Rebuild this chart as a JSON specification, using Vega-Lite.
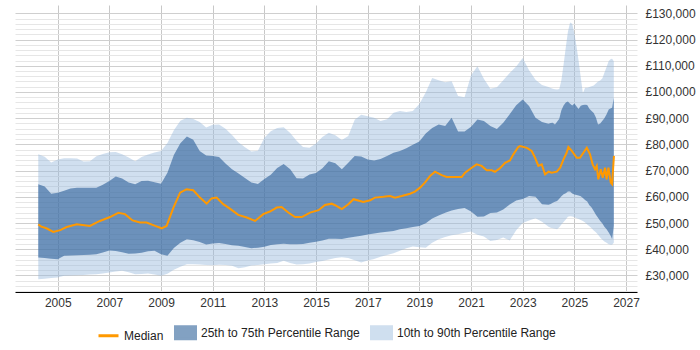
{
  "$schema": "https://vega.github.io/schema/vega-lite/v6.json",
  "width": 622,
  "height": 287,
  "autosize": "none",
  "padding": {"left": 15, "top": 5, "right": 63, "bottom": 58},
  "background": "white",
  "config": {
    "view": {"stroke": null},
    "font": "Liberation Sans",
    "axis": {"labelFont": "Liberation Sans", "labelFontSize": 12, "labelColor": "#333333", "title": null},
    "axisX": {
      "format": "%Y",
      "ticks": false,
      "domainColor": "#000000",
      "domainWidth": 1,
      "gridColor": "#c8c8c8",
      "labelPadding": 5,
      "labelOverlap": false,
      "tickCount": 100
    },
    "axisY": {
      "ticks": false,
      "domain": false,
      "labelPadding": 8,
      "labelOverlap": false,
      "tickCount": 100
    },
    "legend": {
      "orient": "none",
      "direction": "horizontal",
      "legendX": 82,
      "legendY": 316,
      "padding": 0,
      "symbolSize": 400,
      "symbolType": "M-1,-0.6H1V0.6H-1Z",
      "symbolOpacity": 1,
      "labelFont": "Liberation Sans",
      "labelFontSize": 12,
      "labelColor": "#222222",
      "labelOffset": 4,
      "columnPadding": 5,
      "symbolStrokeWidth": 3
    }
  },
  "datasets": {
    "bands": [
      {"date": "2004-04-01", "p10": 28600, "p25": 36900, "p75": 64800, "p90": 76200},
      {"date": "2004-07-01", "p10": 28800, "p25": 36700, "p75": 63900, "p90": 75300},
      {"date": "2004-10-01", "p10": 29000, "p25": 36400, "p75": 61200, "p90": 73100},
      {"date": "2005-01-01", "p10": 29200, "p25": 36200, "p75": 61600, "p90": 74200},
      {"date": "2005-04-01", "p10": 29900, "p25": 37500, "p75": 62300, "p90": 74700},
      {"date": "2005-07-01", "p10": 30000, "p25": 37600, "p75": 63200, "p90": 74700},
      {"date": "2005-10-01", "p10": 30100, "p25": 37700, "p75": 63500, "p90": 74600},
      {"date": "2006-01-01", "p10": 30200, "p25": 37800, "p75": 63500, "p90": 73500},
      {"date": "2006-04-01", "p10": 30400, "p25": 37900, "p75": 63500, "p90": 73600},
      {"date": "2006-07-01", "p10": 30500, "p25": 38100, "p75": 63500, "p90": 75500},
      {"date": "2006-10-01", "p10": 30800, "p25": 38800, "p75": 64600, "p90": 76300},
      {"date": "2007-01-01", "p10": 31100, "p25": 39500, "p75": 66000, "p90": 77000},
      {"date": "2007-04-01", "p10": 31500, "p25": 39300, "p75": 67800, "p90": 77100},
      {"date": "2007-07-01", "p10": 31800, "p25": 38900, "p75": 67000, "p90": 76200},
      {"date": "2007-10-01", "p10": 31200, "p25": 38300, "p75": 65500, "p90": 75000},
      {"date": "2008-01-01", "p10": 30500, "p25": 38400, "p75": 64800, "p90": 73600},
      {"date": "2008-04-01", "p10": 30600, "p25": 38700, "p75": 66000, "p90": 75200},
      {"date": "2008-07-01", "p10": 30800, "p25": 39200, "p75": 66100, "p90": 76100},
      {"date": "2008-10-01", "p10": 30400, "p25": 39400, "p75": 65600, "p90": 76900},
      {"date": "2009-01-01", "p10": 29900, "p25": 38100, "p75": 65000, "p90": 77500},
      {"date": "2009-04-01", "p10": 30700, "p25": 37500, "p75": 69200, "p90": 80500},
      {"date": "2009-07-01", "p10": 32200, "p25": 40500, "p75": 76000, "p90": 85400},
      {"date": "2009-10-01", "p10": 33300, "p25": 42500, "p75": 80400, "p90": 89000},
      {"date": "2010-01-01", "p10": 34300, "p25": 43800, "p75": 83000, "p90": 90200},
      {"date": "2010-04-01", "p10": 34300, "p25": 43400, "p75": 81800, "p90": 89700},
      {"date": "2010-07-01", "p10": 34200, "p25": 42800, "p75": 77500, "p90": 88500},
      {"date": "2010-10-01", "p10": 34000, "p25": 41800, "p75": 75800, "p90": 86400},
      {"date": "2011-01-01", "p10": 33900, "p25": 42200, "p75": 75600, "p90": 87500},
      {"date": "2011-04-01", "p10": 34100, "p25": 42400, "p75": 75200, "p90": 87600},
      {"date": "2011-07-01", "p10": 34000, "p25": 42000, "p75": 72700, "p90": 86000},
      {"date": "2011-10-01", "p10": 33700, "p25": 41500, "p75": 70500, "p90": 83600},
      {"date": "2012-01-01", "p10": 32800, "p25": 41300, "p75": 68900, "p90": 80800},
      {"date": "2012-04-01", "p10": 33100, "p25": 40900, "p75": 67200, "p90": 78900},
      {"date": "2012-07-01", "p10": 33800, "p25": 40400, "p75": 65500, "p90": 77300},
      {"date": "2012-10-01", "p10": 34000, "p25": 40600, "p75": 64900, "p90": 77600},
      {"date": "2013-01-01", "p10": 34300, "p25": 41000, "p75": 66800, "p90": 82500},
      {"date": "2013-04-01", "p10": 34600, "p25": 41600, "p75": 68400, "p90": 85000},
      {"date": "2013-07-01", "p10": 34800, "p25": 41900, "p75": 71000, "p90": 86300},
      {"date": "2013-10-01", "p10": 35600, "p25": 42100, "p75": 72500, "p90": 86500},
      {"date": "2014-01-01", "p10": 34800, "p25": 41900, "p75": 70500, "p90": 84300},
      {"date": "2014-04-01", "p10": 34200, "p25": 41900, "p75": 67100, "p90": 81400},
      {"date": "2014-07-01", "p10": 34300, "p25": 42000, "p75": 67000, "p90": 79000},
      {"date": "2014-10-01", "p10": 34600, "p25": 42500, "p75": 68500, "p90": 78700},
      {"date": "2015-01-01", "p10": 35100, "p25": 42900, "p75": 69100, "p90": 80300},
      {"date": "2015-04-01", "p10": 35500, "p25": 43300, "p75": 70900, "p90": 82800},
      {"date": "2015-07-01", "p10": 36100, "p25": 44000, "p75": 73600, "p90": 84400},
      {"date": "2015-10-01", "p10": 36700, "p25": 44000, "p75": 72800, "p90": 83500},
      {"date": "2016-01-01", "p10": 37000, "p25": 43900, "p75": 70500, "p90": 81700},
      {"date": "2016-04-01", "p10": 36700, "p25": 44400, "p75": 73000, "p90": 83200},
      {"date": "2016-07-01", "p10": 35800, "p25": 44800, "p75": 75600, "p90": 89400},
      {"date": "2016-10-01", "p10": 35000, "p25": 45200, "p75": 75400, "p90": 91300},
      {"date": "2017-01-01", "p10": 35700, "p25": 45600, "p75": 74200, "p90": 90700},
      {"date": "2017-04-01", "p10": 36300, "p25": 46000, "p75": 73900, "p90": 90200},
      {"date": "2017-07-01", "p10": 37100, "p25": 46400, "p75": 74400, "p90": 88900},
      {"date": "2017-10-01", "p10": 37800, "p25": 46700, "p75": 75600, "p90": 89600},
      {"date": "2018-01-01", "p10": 38500, "p25": 47000, "p75": 76800, "p90": 92100},
      {"date": "2018-04-01", "p10": 39400, "p25": 47600, "p75": 77500, "p90": 92700},
      {"date": "2018-07-01", "p10": 40400, "p25": 48000, "p75": 78500, "p90": 92400},
      {"date": "2018-10-01", "p10": 41100, "p25": 48500, "p75": 79900, "p90": 92700},
      {"date": "2019-01-01", "p10": 40800, "p25": 48900, "p75": 81100, "p90": 95400},
      {"date": "2019-04-01", "p10": 40600, "p25": 49900, "p75": 84200, "p90": 99800},
      {"date": "2019-07-01", "p10": 42500, "p25": 51700, "p75": 86300, "p90": 105300},
      {"date": "2019-10-01", "p10": 43800, "p25": 52900, "p75": 87600, "p90": 104500},
      {"date": "2020-01-01", "p10": 44700, "p25": 53900, "p75": 87000, "p90": 103700},
      {"date": "2020-04-01", "p10": 45300, "p25": 54800, "p75": 90200, "p90": 104100},
      {"date": "2020-07-01", "p10": 45700, "p25": 55400, "p75": 84900, "p90": 98500},
      {"date": "2020-10-01", "p10": 46300, "p25": 55700, "p75": 84900, "p90": 98000},
      {"date": "2021-01-01", "p10": 46800, "p25": 54400, "p75": 86700, "p90": 106400},
      {"date": "2021-04-01", "p10": 45500, "p25": 52400, "p75": 89500, "p90": 109800},
      {"date": "2021-07-01", "p10": 44900, "p25": 52500, "p75": 88900, "p90": 105000},
      {"date": "2021-10-01", "p10": 43200, "p25": 53800, "p75": 87000, "p90": 101200},
      {"date": "2022-01-01", "p10": 43500, "p25": 54000, "p75": 85900, "p90": 101800},
      {"date": "2022-04-01", "p10": 44500, "p25": 55200, "p75": 88300, "p90": 104500},
      {"date": "2022-07-01", "p10": 43300, "p25": 57100, "p75": 91500, "p90": 107200},
      {"date": "2022-10-01", "p10": 47300, "p25": 58600, "p75": 94900, "p90": 109700},
      {"date": "2023-01-01", "p10": 50000, "p25": 59200, "p75": 97100, "p90": 113000},
      {"date": "2023-04-01", "p10": 51000, "p25": 60300, "p75": 94600, "p90": 108300},
      {"date": "2023-07-01", "p10": 51800, "p25": 60000, "p75": 90200, "p90": 104700},
      {"date": "2023-10-01", "p10": 50500, "p25": 57200, "p75": 88500, "p90": 102700},
      {"date": "2024-01-01", "p10": 48600, "p25": 57000, "p75": 87900, "p90": 101900},
      {"date": "2024-02-01", "p10": 48200, "p25": 57300, "p75": 88200, "p90": 101500},
      {"date": "2024-03-01", "p10": 48000, "p25": 57700, "p75": 88300, "p90": 101200},
      {"date": "2024-04-01", "p10": 47800, "p25": 58100, "p75": 87600, "p90": 101000},
      {"date": "2024-05-01", "p10": 47600, "p25": 58400, "p75": 88600, "p90": 100900},
      {"date": "2024-06-01", "p10": 48400, "p25": 59300, "p75": 89800, "p90": 101100},
      {"date": "2024-07-01", "p10": 49400, "p25": 60200, "p75": 93000, "p90": 104500},
      {"date": "2024-08-01", "p10": 50400, "p25": 61000, "p75": 94800, "p90": 110500},
      {"date": "2024-09-01", "p10": 51400, "p25": 61400, "p75": 96000, "p90": 117000},
      {"date": "2024-10-01", "p10": 52400, "p25": 62000, "p75": 96400, "p90": 123000},
      {"date": "2024-11-01", "p10": 52600, "p25": 62000, "p75": 95500, "p90": 126500},
      {"date": "2024-12-01", "p10": 52500, "p25": 61300, "p75": 94800, "p90": 126000},
      {"date": "2025-01-01", "p10": 52200, "p25": 60900, "p75": 95600, "p90": 122300},
      {"date": "2025-02-01", "p10": 51800, "p25": 60700, "p75": 94500, "p90": 117200},
      {"date": "2025-03-01", "p10": 51500, "p25": 60500, "p75": 93500, "p90": 112000},
      {"date": "2025-04-01", "p10": 51200, "p25": 60200, "p75": 94700, "p90": 105500},
      {"date": "2025-05-01", "p10": 50800, "p25": 59600, "p75": 95000, "p90": 99500},
      {"date": "2025-06-01", "p10": 50200, "p25": 58800, "p75": 95100, "p90": 101600},
      {"date": "2025-07-01", "p10": 49400, "p25": 58200, "p75": 95000, "p90": 101600},
      {"date": "2025-08-01", "p10": 48800, "p25": 56800, "p75": 93600, "p90": 101900},
      {"date": "2025-09-01", "p10": 48000, "p25": 55900, "p75": 92700, "p90": 102200},
      {"date": "2025-10-01", "p10": 47200, "p25": 54600, "p75": 92000, "p90": 102500},
      {"date": "2025-11-01", "p10": 46500, "p25": 53200, "p75": 90300, "p90": 103200},
      {"date": "2025-12-01", "p10": 45500, "p25": 52000, "p75": 87600, "p90": 104000},
      {"date": "2026-01-01", "p10": 44500, "p25": 50800, "p75": 88000, "p90": 104400},
      {"date": "2026-02-01", "p10": 43600, "p25": 49800, "p75": 89000, "p90": 105200},
      {"date": "2026-03-01", "p10": 43000, "p25": 48600, "p75": 90000, "p90": 107300},
      {"date": "2026-04-01", "p10": 42500, "p25": 47600, "p75": 91500, "p90": 109500},
      {"date": "2026-05-01", "p10": 41900, "p25": 46400, "p75": 93300, "p90": 111800},
      {"date": "2026-06-01", "p10": 41700, "p25": 45000, "p75": 93800, "p90": 112600},
      {"date": "2026-06-18", "p10": 41700, "p25": 43800, "p75": 94000, "p90": 112700},
      {"date": "2026-07-12", "p10": 42500, "p25": 49000, "p75": 97800, "p90": 111700}
    ],
    "median": [
      {"date": "2004-04-01", "salary": 49500},
      {"date": "2004-05-15", "salary": 48600},
      {"date": "2004-07-25", "salary": 48000},
      {"date": "2004-10-30", "salary": 46600},
      {"date": "2005-02-05", "salary": 47300},
      {"date": "2005-05-08", "salary": 48500},
      {"date": "2005-09-27", "salary": 49500},
      {"date": "2006-04-01", "salary": 48900},
      {"date": "2006-08-20", "salary": 50800},
      {"date": "2007-01-10", "salary": 52300},
      {"date": "2007-05-08", "salary": 53900},
      {"date": "2007-08-10", "salary": 53400},
      {"date": "2007-11-25", "salary": 51000},
      {"date": "2008-03-10", "salary": 50200},
      {"date": "2008-06-10", "salary": 50200},
      {"date": "2008-10-10", "salary": 48900},
      {"date": "2009-01-10", "salary": 48000},
      {"date": "2009-03-20", "salary": 48900},
      {"date": "2009-06-25", "salary": 55900},
      {"date": "2009-09-27", "salary": 61600},
      {"date": "2009-12-28", "salary": 62900},
      {"date": "2010-04-01", "salary": 62500},
      {"date": "2010-07-05", "salary": 59700},
      {"date": "2010-10-08", "salary": 57400},
      {"date": "2010-12-16", "salary": 59400},
      {"date": "2011-02-25", "salary": 59700},
      {"date": "2011-05-30", "salary": 57200},
      {"date": "2011-09-01", "salary": 55500},
      {"date": "2011-12-28", "salary": 53100},
      {"date": "2012-04-27", "salary": 52100},
      {"date": "2012-08-22", "salary": 50800},
      {"date": "2012-12-16", "salary": 53400},
      {"date": "2013-03-20", "salary": 54400},
      {"date": "2013-06-25", "salary": 55900},
      {"date": "2013-09-01", "salary": 56100},
      {"date": "2013-12-05", "salary": 54000},
      {"date": "2014-03-10", "salary": 52300},
      {"date": "2014-06-14", "salary": 52300},
      {"date": "2014-10-08", "salary": 54000},
      {"date": "2015-02-05", "salary": 54900},
      {"date": "2015-05-08", "salary": 56900},
      {"date": "2015-08-10", "salary": 57400},
      {"date": "2015-09-27", "salary": 56800},
      {"date": "2016-01-01", "salary": 55300},
      {"date": "2016-04-01", "salary": 57200},
      {"date": "2016-06-14", "salary": 59100},
      {"date": "2016-09-13", "salary": 58400},
      {"date": "2016-10-30", "salary": 58000},
      {"date": "2017-02-05", "salary": 58700},
      {"date": "2017-04-13", "salary": 59700},
      {"date": "2017-08-10", "salary": 60000},
      {"date": "2017-11-13", "salary": 60300},
      {"date": "2018-01-22", "salary": 59700},
      {"date": "2018-04-27", "salary": 60300},
      {"date": "2018-08-22", "salary": 61200},
      {"date": "2018-10-30", "salary": 62000},
      {"date": "2019-01-10", "salary": 63500},
      {"date": "2019-03-20", "salary": 65400},
      {"date": "2019-05-30", "salary": 67900},
      {"date": "2019-08-10", "salary": 69600},
      {"date": "2019-11-13", "salary": 68300},
      {"date": "2020-01-22", "salary": 67600},
      {"date": "2020-04-27", "salary": 67600},
      {"date": "2020-08-22", "salary": 67600},
      {"date": "2020-10-08", "salary": 69200},
      {"date": "2021-01-10", "salary": 71100},
      {"date": "2021-03-20", "salary": 72400},
      {"date": "2021-05-30", "salary": 71800},
      {"date": "2021-08-10", "salary": 70100},
      {"date": "2021-10-20", "salary": 70100},
      {"date": "2021-12-05", "salary": 69500},
      {"date": "2022-02-13", "salary": 70900},
      {"date": "2022-04-27", "salary": 73000},
      {"date": "2022-07-05", "salary": 73900},
      {"date": "2022-08-22", "salary": 76200},
      {"date": "2022-10-30", "salary": 79000},
      {"date": "2022-11-25", "salary": 79400},
      {"date": "2023-02-28", "salary": 78700},
      {"date": "2023-05-08", "salary": 77500},
      {"date": "2023-06-25", "salary": 74900},
      {"date": "2023-08-10", "salary": 71800},
      {"date": "2023-09-27", "salary": 72400},
      {"date": "2023-11-13", "salary": 68600},
      {"date": "2024-01-01", "salary": 69600},
      {"date": "2024-02-13", "salary": 69200},
      {"date": "2024-04-27", "salary": 69600},
      {"date": "2024-06-14", "salary": 71100},
      {"date": "2024-07-31", "salary": 74300},
      {"date": "2024-09-13", "salary": 76800},
      {"date": "2024-10-08", "salary": 79000},
      {"date": "2024-11-25", "salary": 77500},
      {"date": "2025-02-03", "salary": 74900},
      {"date": "2025-03-20", "salary": 74900},
      {"date": "2025-05-08", "salary": 76800},
      {"date": "2025-06-25", "salary": 78700},
      {"date": "2025-08-10", "salary": 76200},
      {"date": "2025-09-16", "salary": 72400},
      {"date": "2025-10-20", "salary": 70500},
      {"date": "2025-11-13", "salary": 71800},
      {"date": "2025-12-05", "salary": 66700},
      {"date": "2026-01-08", "salary": 70500},
      {"date": "2026-02-06", "salary": 67300},
      {"date": "2026-03-10", "salary": 71100},
      {"date": "2026-04-01", "salary": 66700},
      {"date": "2026-04-27", "salary": 71100},
      {"date": "2026-05-30", "salary": 65400},
      {"date": "2026-06-18", "salary": 64800},
      {"date": "2026-07-14", "salary": 75600}
    ]
  },
  "layer": [
    {
      "data": {"name": "bands"},
      "mark": {"type": "area", "opacity": 0.45},
      "encoding": {
        "x": {
          "field": "date",
          "type": "temporal",
          "scale": {"domain": [{"year": 2003, "month": 5, "date": 8}, {"year": 2027, "month": 6, "date": 5}]},
          "axis": {
            "title": null,
            "values": [
              {"year": 2005, "month": 1, "date": 1}, {"year": 2007, "month": 1, "date": 1},
              {"year": 2009, "month": 1, "date": 1}, {"year": 2011, "month": 1, "date": 1},
              {"year": 2013, "month": 1, "date": 1}, {"year": 2015, "month": 1, "date": 1},
              {"year": 2017, "month": 1, "date": 1}, {"year": 2019, "month": 1, "date": 1},
              {"year": 2021, "month": 1, "date": 1}, {"year": 2023, "month": 1, "date": 1},
              {"year": 2025, "month": 1, "date": 1}, {"year": 2027, "month": 1, "date": 1}
            ]
          }
        },
        "y": {
          "field": "p90",
          "type": "quantitative",
          "scale": {"domain": [23700, 133170], "nice": false, "zero": false},
          "axis": {
            "title": null,
            "orient": "right",
            "values": [24000, 26000, 28000, 30000, 32000, 34000, 36000, 38000, 40000, 42000, 44000, 46000, 48000, 50000, 52000, 54000, 56000, 58000, 60000, 62000, 64000, 66000, 68000, 70000, 72000, 74000, 76000, 78000, 80000, 82000, 84000, 86000, 88000, 90000, 92000, 94000, 96000, 98000, 100000, 102000, 104000, 106000, 108000, 110000, 112000, 114000, 116000, 118000, 120000, 122000, 124000, 126000, 128000, 130000],
            "labelExpr": "datum.value % 10000 === 0 ? '£' + format(datum.value, ',') : ''",
            "gridColor": {"condition": {"test": "datum.value % 10000 === 0", "value": "#cfcfcf"}, "value": "#e6e6e6"}
          }
        },
        "y2": {"field": "p10"},
        "color": {
          "datum": "10th to 90th Percentile Range",
          "scale": {
            "domain": ["Median", "25th to 75th Percentile Range", "10th to 90th Percentile Range"],
            "range": ["#ff9900", "#295e97", "#96b9dc"]
          },
          "legend": {
            "title": null,
            "encode": {
              "symbols": {
                "update": {
                  "shape": {"signal": "datum.value === 'Median' ? 'stroke' : 'M-1,-0.6H1V0.6H-1Z'"},
                  "fill": {"signal": "datum.value === 'Median' ? 'transparent' : (datum.value === '25th to 75th Percentile Range' ? '#86a3c5' : '#cfdeee')"},
                  "stroke": {"signal": "datum.value === 'Median' ? '#ff9900' : 'transparent'"},
                  "strokeWidth": {"value": 3},
                  "opacity": {"signal": "datum.value === 'Median' ? 1 : (datum.value === '25th to 75th Percentile Range' ? 0.58 : 0.45)"}
                }
              }
            }
          }
        }
      }
    },
    {
      "data": {"name": "bands"},
      "mark": {"type": "area", "opacity": 0.6},
      "encoding": {
        "x": {"field": "date", "type": "temporal", "axis": {"title": null}},
        "y": {"field": "p75", "type": "quantitative", "axis": {"title": null, "orient": "right"}},
        "y2": {"field": "p25"},
        "color": {"datum": "25th to 75th Percentile Range"}
      }
    },
    {
      "data": {"name": "median"},
      "mark": {"type": "line", "strokeWidth": 2},
      "encoding": {
        "x": {"field": "date", "type": "temporal", "axis": {"title": null}},
        "y": {"field": "salary", "type": "quantitative", "axis": {"title": null, "orient": "right"}},
        "color": {"datum": "Median"}
      }
    }
  ]
}
